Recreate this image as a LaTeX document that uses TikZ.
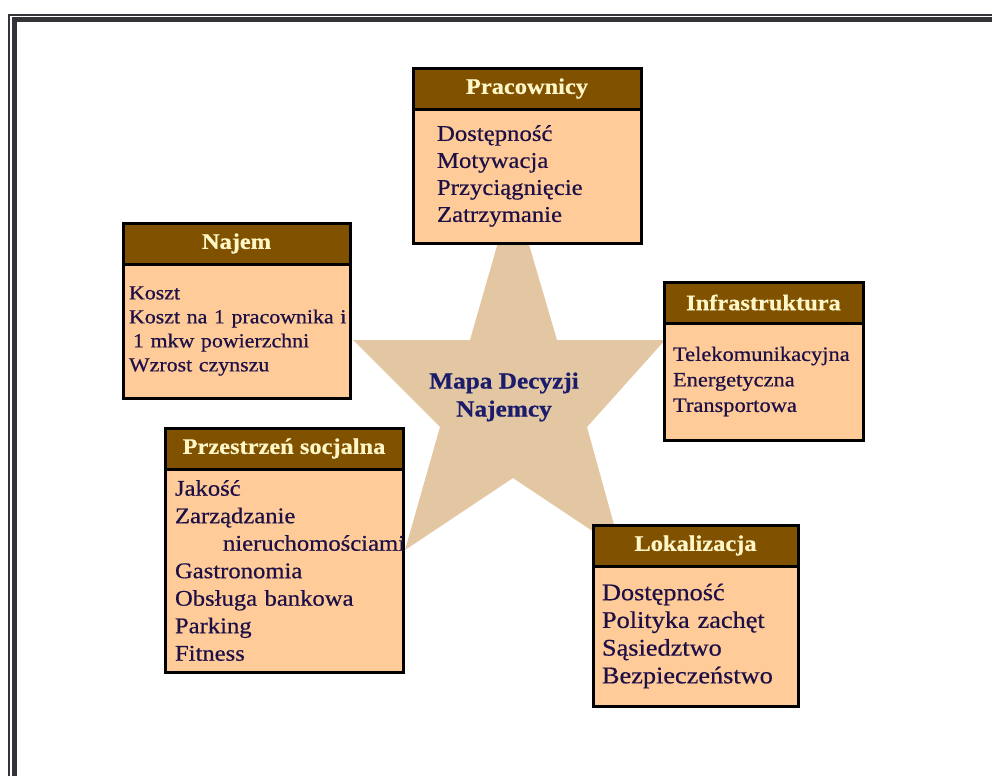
\documentclass[tikz,border=0pt]{standalone}
\usepackage{fontspec}
\setmainfont[FakeStretch=1.1, FakeBold=0.6]{Liberation Serif}
\usetikzlibrary{positioning}

\definecolor{headbrown}{RGB}{128,82,0}
\definecolor{headtext}{RGB}{255,246,200}
\definecolor{peach}{RGB}{255,204,153}
\definecolor{bodytext}{RGB}{30,16,70}
\definecolor{startan}{RGB}{227,199,162}
\definecolor{mapnavy}{RGB}{28,28,108}
\definecolor{framegray}{RGB}{52,52,56}

\begin{document}
\begin{tikzpicture}[x=1pt, y=-1pt,
    node distance=0pt,
    head/.style={rectangle, draw, line width=3pt, outer sep=0pt, inner sep=0pt, fill=headbrown, text=headtext, font=\fontsize{22.2}{26}\selectfont\bfseries, minimum height=41pt, anchor=north west},
    body/.style={rectangle, draw, line width=3pt, outer sep=0pt, inner ysep=0pt, fill=peach, text=bodytext, align=left},
    borderline/.style={draw=framegray}
  ]
  \useasboundingbox (0,0) rectangle (992,776);

  \draw[borderline, line width=2pt] (9,776) -- (9,15) -- (992,15);
  \draw[borderline, line width=5.5pt] (14.5,776) -- (14.5,19.5) -- (992,19.5);

  \fill[startan] (513,190) -- (557,340) -- (665,340) -- (587,427) -- (621,550) -- (513,478)
    -- (405,550) -- (440,427) -- (353,340) -- (470,340) -- cycle;
  \node[font=\fontsize{23}{28}\selectfont\bfseries, text=mapnavy, align=center] (mapa) at (504,397) {Mapa Decyzji\\Najemcy};

  \node[head, minimum width=228pt] (pracH) at (413,68) {Pracownicy};
  \node[body, below=of pracH, text width=180pt, inner xsep=24pt, minimum height=134pt, font=\fontsize{22.5}{27}\selectfont] (pracB)
    {Dostępność\\Motywacja\\Przyciągnięcie\\Zatrzymanie};

  \node[head, minimum width=227pt] (najemH) at (123,223) {Najem};
  \node[body, below=of najemH, text width=215pt, inner xsep=6pt, minimum height=134pt, font=\fontsize{19.9}{24}\selectfont] (najemB)
    {Koszt\\\mbox{Koszt na 1 pracownika i}\\\hspace*{4pt}1 mkw powierzchni\\Wzrost czynszu};

  \node[head, minimum width=199pt] (infraH) at (664,282) {Infrastruktura};
  \node[body, below=of infraH, text width=181pt, inner xsep=9pt, minimum height=117pt, font=\fontsize{20.4}{25.5}\selectfont] (infraB)
    {Telekomunikacyjna\\Energetyczna\\Transportowa};

  \node[head, minimum width=238pt] (socH) at (165,428) {Przestrzeń socjalna};
  \node[body, below=of socH, text width=218pt, inner xsep=10pt, minimum height=203pt, font=\fontsize{22.4}{27.5}\selectfont] (socB)
    {Jakość\\Zarządzanie\\\hspace*{48pt}\mbox{nieruchomościami}\\Gastronomia\\Obsługa bankowa\\Parking\\Fitness};

  \node[head, minimum width=205pt] (lokH) at (593,525) {Lokalizacja};
  \node[body, below=of lokH, text width=187pt, inner xsep=9pt, minimum height=140pt, font=\fontsize{23.9}{27.7}\selectfont] (lokB)
    {Dostępność\\Polityka zachęt\\Sąsiedztwo\\Bezpieczeństwo};
\end{tikzpicture}
\end{document}
